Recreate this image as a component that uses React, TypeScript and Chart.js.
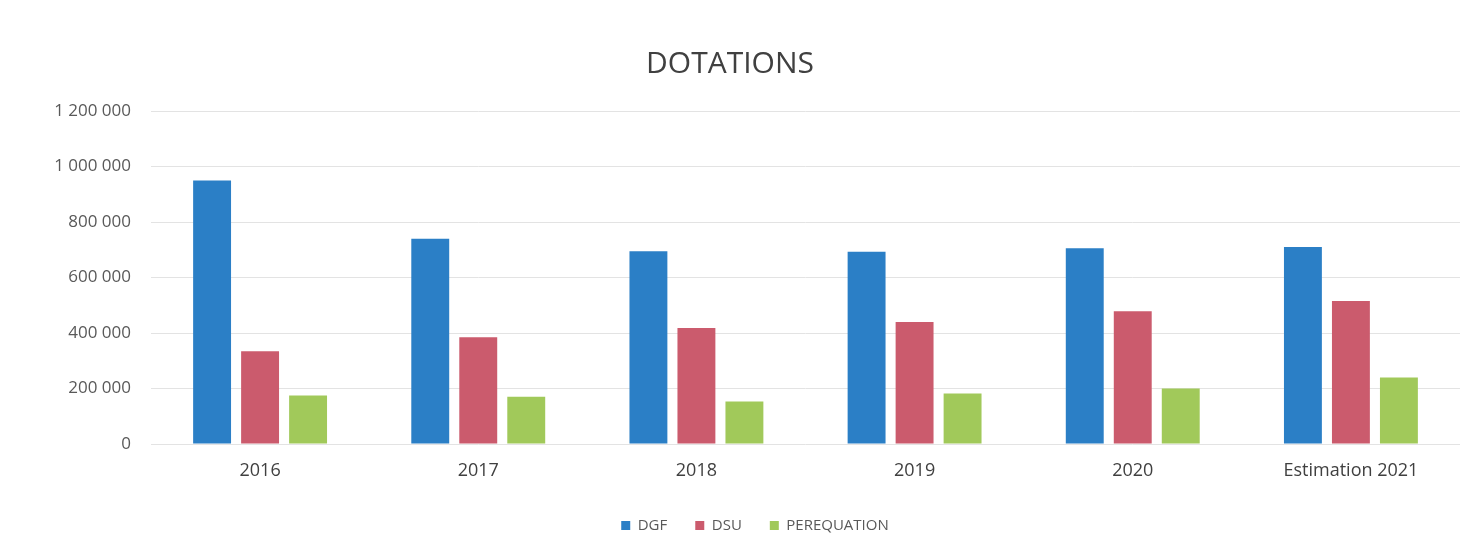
import React, { useEffect, useRef } from "react";
import { Chart, registerables } from "chart.js";

Chart.register(...registerables);

const categories = ["2016", "2017", "2018", "2019", "2020", "Estimation 2021"];
const dgf = [950000, 740000, 695000, 693000, 705000, 710000];
const dsu = [334000, 385000, 418000, 440000, 478000, 515000];
const perequation = [175000, 170000, 153000, 182000, 200000, 240000];
const seriesNames = ["DGF", "DSU", "PEREQUATION"];
const seriesColors = ["#2b7fc6", "#cb5b6d", "#a1c95a"];

const fmt = (v: number) =>
  Math.round(v)
    .toString()
    .replace(/\B(?=(\d{3})+(?!\d))/g, " ");

const legendShift = {
  id: "legendShift",
  afterLayout(chart: any) {
    if (chart.legend) {
      chart.legend.left += 25;
      chart.legend.right += 25;
    }
  },
};

export default function App() {
  const ref = useRef<HTMLCanvasElement | null>(null);

  useEffect(() => {
    document.body.style.margin = "0";
    const ctx = ref.current;
    if (!ctx) return;
    const font = "'Open Sans', Lato, sans-serif";
    const chart = new Chart(ctx, {
      type: "bar",
      plugins: [legendShift],
      data: {
        labels: categories,
        datasets: [dgf, dsu, perequation].map((d, i) => ({
          label: seriesNames[i],
          data: d,
          backgroundColor: seriesColors[i],
          borderWidth: 0,
          categoryPercentage: 0.66,
          barPercentage: 0.79,
        })),
      },
      options: {
        animation: false,
        responsive: false,
        maintainAspectRatio: false,
        layout: { padding: { left: 0, right: 11, top: 0, bottom: 15 } },
        plugins: {
          title: {
            display: true,
            text: "DOTATIONS",
            color: "#404040",
            font: { family: font, size: 30, weight: "normal" },
            padding: { top: 46, bottom: 29 },
          },
          legend: {
            position: "bottom",
            labels: {
              color: "#595959",
              font: { family: font, size: 15 },
              boxWidth: 9,
              boxHeight: 9,
              padding: 28,
            },
          },
          tooltip: { enabled: false },
        },
        scales: {
          x: {
            grid: { display: false },
            border: { display: false },
            ticks: {
              color: "#404040",
              font: { family: font, size: 18 },
              padding: 8,
            },
            afterFit: (s: any) => {
              s.height = 46;
            },
          },
          y: {
            min: 0,
            max: 1200000,
            border: { display: false },
            grid: { color: "#e3e3e3", drawTicks: false },
            ticks: {
              stepSize: 200000,
              color: "#595959",
              font: { family: font, size: 17 },
              padding: 20,
              callback: (v: any) => fmt(Number(v)),
            },
            afterFit: (s: any) => {
              s.width = 151;
            },
          },
        },
      },
    });
    return () => chart.destroy();
  }, []);

  return (
    <div style={{ width: 1471, height: 558, background: "#ffffff" }}>
      <canvas ref={ref} width={1471} height={558} />
    </div>
  );
}
